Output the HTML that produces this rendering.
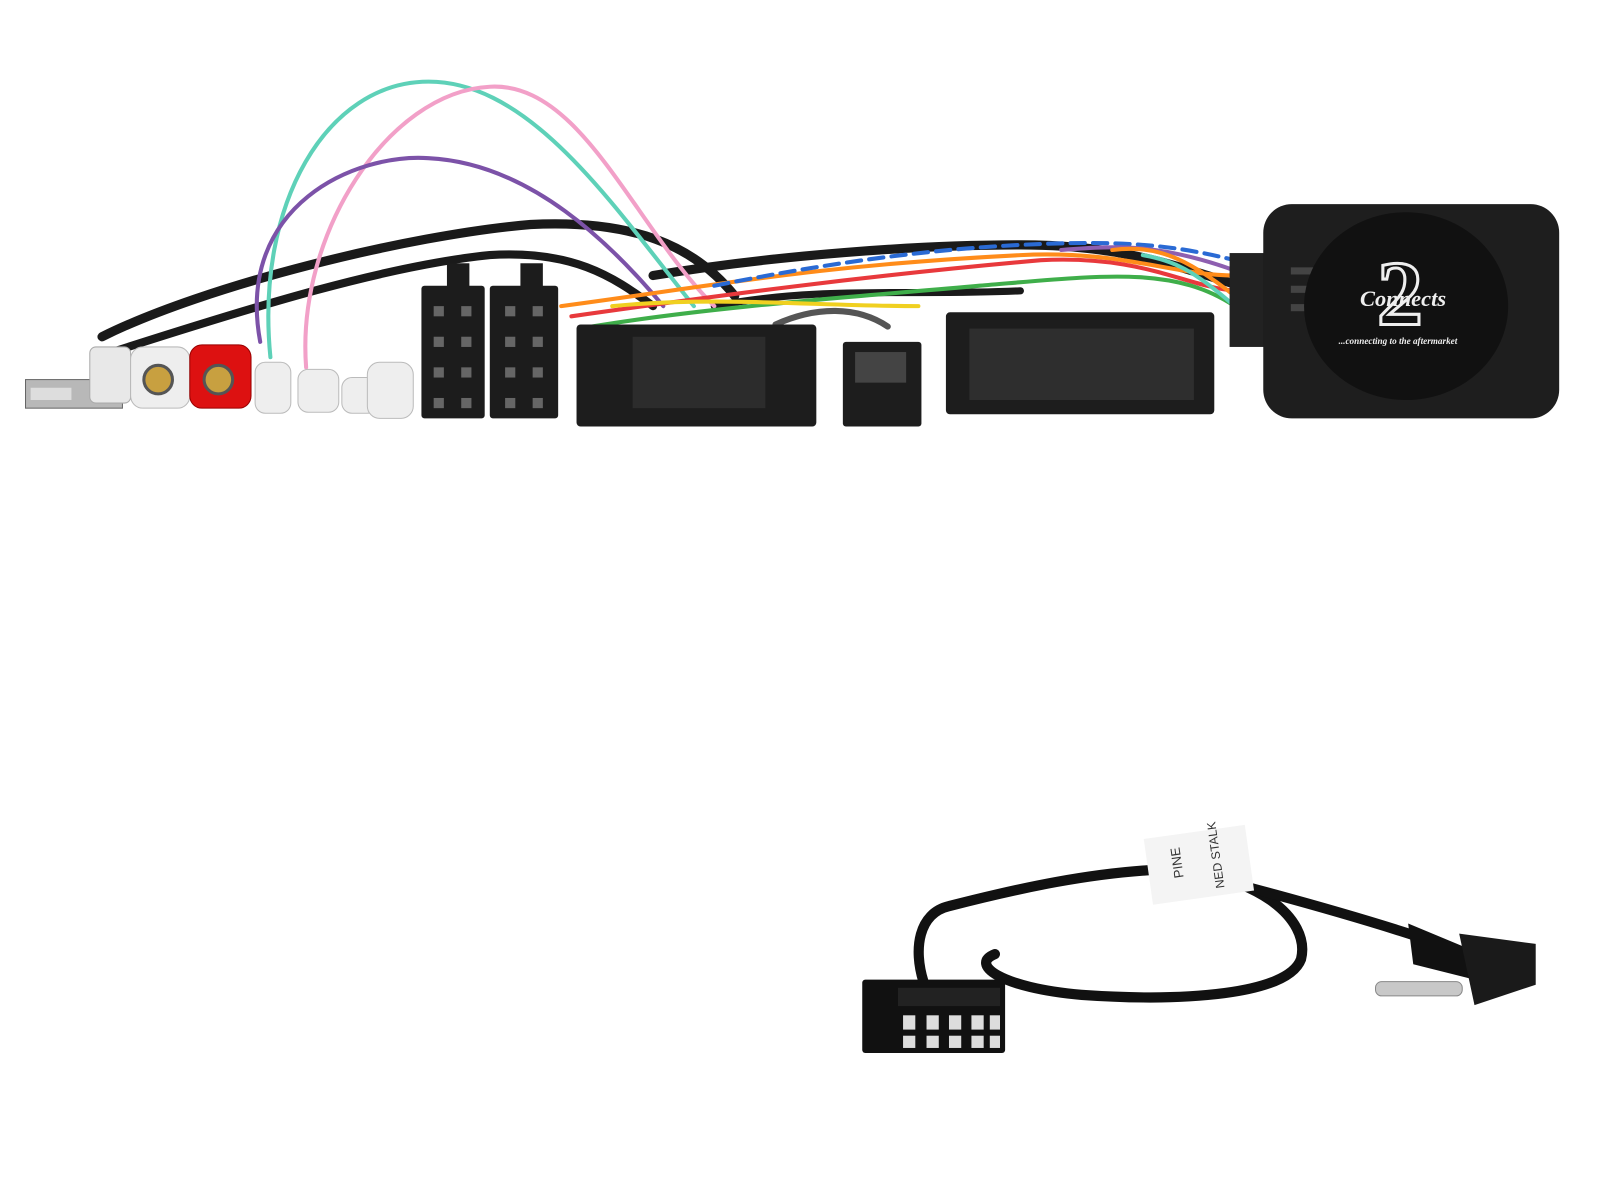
<!DOCTYPE html>
<html><head><meta charset="utf-8"><style>
html,body{margin:0;padding:0;background:#fff;}
svg{display:block;}
</style></head><body>
<svg width="1600" height="1200" viewBox="0 0 1568 1176" xmlns="http://www.w3.org/2000/svg">
<rect width="1568" height="1176" fill="#fff"/>
<!-- black cables -->
<g fill="none" stroke="#1a1a1a" stroke-linecap="round">
<path d="M100 330 C200 280 400 230 520 220 C620 215 680 240 720 290" stroke-width="9"/>
<path d="M110 345 C250 300 380 260 480 250 C560 245 600 270 640 300" stroke-width="8"/>
<path d="M640 270 C760 250 900 240 1000 240 C1100 240 1150 260 1215 280" stroke-width="9"/>
<path d="M700 300 C800 280 900 290 1000 285" stroke-width="7"/>
<path d="M760 318 C800 300 840 300 870 320" stroke-width="6" stroke="#555"/>
</g>
<!-- colored wires -->
<g fill="none" stroke-width="4" stroke-linecap="round">
<path d="M265 350 C250 200 320 80 420 80 C520 80 600 200 680 300" stroke="#5ed1b8"/>
<path d="M300 360 C290 230 380 90 480 85 C570 80 620 220 700 300" stroke="#f2a0c8"/>
<path d="M255 335 C230 200 350 150 420 155 C520 160 600 240 650 300" stroke="#7c52a8"/>
<path d="M550 300 C700 280 800 260 1000 250 C1100 245 1150 270 1210 270" stroke="#ff8c1a"/>
<path d="M560 310 C700 290 850 270 1020 255 C1120 250 1160 280 1210 285" stroke="#e8393c"/>
<path d="M700 280 C800 260 900 245 1000 240 C1100 235 1150 240 1210 255" stroke="#2a6ad4" stroke-dasharray="14 8"/>
<path d="M580 320 C700 300 850 290 960 280 C1080 270 1150 260 1210 300" stroke="#3fae4a"/>
<path d="M1040 245 C1100 240 1140 240 1210 265" stroke="#8e5fb0"/>
<path d="M600 300 C700 290 800 300 900 300" stroke="#f0d020"/>
<path d="M1090 245 C1130 240 1160 250 1210 290" stroke="#ff8c1a"/>
<path d="M1120 250 C1150 255 1170 265 1210 300" stroke="#5ed1b8"/>
</g>
<!-- USB -->
<rect x="25" y="372" width="95" height="28" fill="#b8b8b8" stroke="#666"/>
<rect x="30" y="380" width="40" height="12" fill="#ddd"/>
<rect x="88" y="340" width="40" height="55" rx="6" fill="#e8e8e8" stroke="#aaa"/>
<!-- RCA -->
<rect x="128" y="340" width="58" height="60" rx="12" fill="#eee" stroke="#bbb"/>
<circle cx="155" cy="372" r="14" fill="#c8a040" stroke="#555" stroke-width="3"/>
<rect x="186" y="338" width="60" height="62" rx="12" fill="#d11" stroke="#900"/>
<circle cx="214" cy="372" r="14" fill="#c8a040" stroke="#555" stroke-width="3"/>
<!-- bullets -->
<g fill="#eee" stroke="#bbb">
<rect x="250" y="355" width="35" height="50" rx="10"/>
<rect x="292" y="362" width="40" height="42" rx="10"/>
<rect x="335" y="370" width="35" height="35" rx="10"/>
<rect x="360" y="355" width="45" height="55" rx="12"/>
</g>
<!-- ISO connectors -->
<g fill="#1c1c1c">
<rect x="413" y="280" width="62" height="130" rx="3"/>
<rect x="480" y="280" width="67" height="130" rx="3"/>
<rect x="438" y="258" width="22" height="24"/>
<rect x="510" y="258" width="22" height="24"/>
</g>
<g fill="#666">
<rect x="425" y="300" width="10" height="10"/><rect x="452" y="300" width="10" height="10"/>
<rect x="425" y="330" width="10" height="10"/><rect x="452" y="330" width="10" height="10"/>
<rect x="425" y="360" width="10" height="10"/><rect x="452" y="360" width="10" height="10"/>
<rect x="425" y="390" width="10" height="10"/><rect x="452" y="390" width="10" height="10"/>
<rect x="495" y="300" width="10" height="10"/><rect x="522" y="300" width="10" height="10"/>
<rect x="495" y="330" width="10" height="10"/><rect x="522" y="330" width="10" height="10"/>
<rect x="495" y="360" width="10" height="10"/><rect x="522" y="360" width="10" height="10"/>
<rect x="495" y="390" width="10" height="10"/><rect x="522" y="390" width="10" height="10"/>
</g>
<!-- large connectors -->
<rect x="565" y="318" width="235" height="100" rx="4" fill="#1d1d1d"/>
<rect x="620" y="330" width="130" height="70" fill="#2c2c2c"/>
<rect x="826" y="335" width="77" height="83" rx="3" fill="#1d1d1d"/>
<rect x="838" y="345" width="50" height="30" fill="#444"/>
<rect x="927" y="306" width="263" height="100" rx="4" fill="#1d1d1d"/>
<rect x="950" y="322" width="220" height="70" fill="#2e2e2e"/>
<!-- module -->
<rect x="1205" y="248" width="45" height="92" fill="#222"/>
<rect x="1238" y="200" width="290" height="210" rx="28" fill="#1e1e1e"/>
<g fill="#444"><rect x="1265" y="262" width="40" height="7"/><rect x="1265" y="280" width="40" height="7"/><rect x="1265" y="298" width="40" height="7"/></g>
<ellipse cx="1378" cy="300" rx="100" ry="92" fill="#111"/>
<text x="1372" y="318" font-family="Liberation Serif,serif" font-size="90" font-weight="bold" fill="none" stroke="#eee" stroke-width="3" text-anchor="middle">2</text>
<text x="1375" y="300" font-family="Liberation Serif,serif" font-style="italic" font-weight="bold" font-size="22" fill="#eee" text-anchor="middle">Connects</text>
<text x="1370" y="337" font-family="Liberation Serif,serif" font-style="italic" font-weight="bold" font-size="9" fill="#eee" text-anchor="middle">...connecting to the aftermarket</text>
<!-- bottom cable -->
<g fill="none" stroke="#111" stroke-width="10" stroke-linecap="round">
<path d="M905 962 C895 930 900 895 930 888 C1000 870 1070 855 1140 852 C1230 855 1285 900 1275 940 C1262 975 1160 982 1060 975 C980 968 950 945 975 935"/>
<path d="M1225 870 C1300 890 1350 905 1390 918"/>
</g>
<rect x="1125" y="815" width="100" height="65" fill="#f4f4f4" transform="rotate(-8 1175 848)"/>
<text x="1160" y="860" font-family="Liberation Sans,sans-serif" font-size="13" fill="#333" transform="rotate(-98 1160 860)">PINE</text>
<text x="1200" y="870" font-family="Liberation Sans,sans-serif" font-size="12" fill="#333" transform="rotate(-98 1200 870)">NED STALK</text>
<path d="M1380 905 L1440 930 L1445 960 L1385 945 Z" fill="#111"/>
<path d="M1430 915 L1505 925 L1505 965 L1445 985 Z" fill="#1a1a1a"/>
<rect x="1348" y="962" width="85" height="14" rx="6" fill="#c8c8c8" stroke="#888"/>
<rect x="845" y="960" width="140" height="72" rx="3" fill="#111"/>
<rect x="880" y="968" width="100" height="18" fill="#222"/>
<g fill="#ddd">
<rect x="885" y="995" width="12" height="14"/><rect x="908" y="995" width="12" height="14"/><rect x="930" y="995" width="12" height="14"/><rect x="952" y="995" width="12" height="14"/><rect x="970" y="995" width="10" height="14"/>
<rect x="885" y="1015" width="12" height="12"/><rect x="908" y="1015" width="12" height="12"/><rect x="930" y="1015" width="12" height="12"/><rect x="952" y="1015" width="12" height="12"/><rect x="970" y="1015" width="10" height="12"/>
</g>
</svg>
</body></html>
